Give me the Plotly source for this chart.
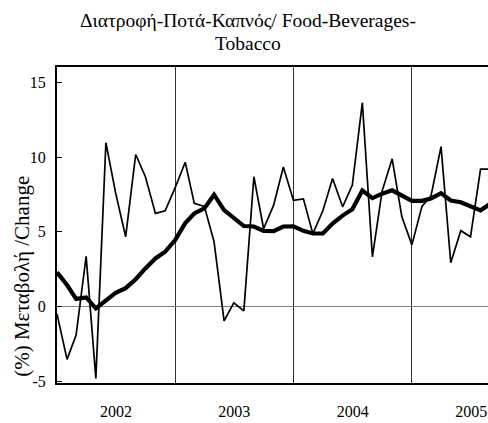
import pandas as pd
import plotly.graph_objects as go

# ---- data ----
months = pd.date_range("2002-01-01", periods=45, freq="MS")
monthly_change = [-0.5, -3.55, -1.92, 3.35, -4.82, 10.96, 7.6, 4.66, 10.17, 8.68, 6.23, 6.4,
                  7.95, 9.65, 6.9, 6.7, 4.33, -0.97, 0.24, -0.3, 8.68, 5.2, 6.78, 9.33,
                  7.1, 7.2, 4.87, 6.4, 8.57, 6.67, 8.12, 13.64, 3.32, 7.72, 9.88, 6.0,
                  4.12, 6.7, 7.4, 10.7, 2.92, 5.07, 4.66, 9.19, 9.19]
average_change = [2.28, 1.43, 0.5, 0.6, -0.13, 0.4, 0.91, 1.22, 1.82, 2.54, 3.21, 3.66,
                  4.44, 5.58, 6.22, 6.56, 7.48, 6.45, 5.93, 5.38, 5.35, 5.05, 5.04, 5.35,
                  5.36, 5.06, 4.88, 4.88, 5.55, 6.08, 6.5, 7.76, 7.25, 7.55, 7.77, 7.45,
                  7.07, 7.07, 7.23, 7.58, 7.09, 6.97, 6.67, 6.43, 6.88]
y_ticks = [-5, 0, 5, 10, 15]
y_tick_labels = ["-5", "0", "5", "10", "15"]
x_start = "2002-01-01"
x_end = "2005-08-24"

title_line1 = "Διατροφή-Ποτά-Καπνός/ Food-Beverages-"
title_line2 = "Tobacco"
y_title = "(%) Μεταβολή /Change"

FONT = "Liberation Serif"

fig = go.Figure()
fig.add_trace(go.Scatter(x=months, y=monthly_change, mode="lines",
                         line=dict(color="black", width=1.7), showlegend=False))
fig.add_trace(go.Scatter(x=months, y=average_change, mode="lines",
                         line=dict(color="black", width=4.2), showlegend=False))

fig.update_layout(
    width=488, height=423,
    margin=dict(l=57, r=0, t=67, b=40, autoexpand=False),
    paper_bgcolor="white", plot_bgcolor="white",
    font=dict(family=FONT, color="black", size=16),
    xaxis=dict(
        type="date", range=[x_start, x_end],
        dtick="M12", tick0=x_start, ticklabelmode="period", tickformat="%Y",
        showgrid=True, gridcolor="#303030", gridwidth=1,
        showline=True, linecolor="black", linewidth=2, mirror=True,
        ticks="", ticklabelstandoff=13, zeroline=False,
        tickfont=dict(family=FONT, size=16),
    ),
    yaxis=dict(
        range=[-5.13, 16.03], tickvals=y_ticks, ticktext=y_tick_labels,
        showgrid=False, zeroline=True, zerolinecolor="#808080", zerolinewidth=1,
        showline=True, linecolor="black", linewidth=2,
        ticks="inside", ticklen=5, tickcolor="black",
        ticklabelstandoff=6,
        tickfont=dict(family=FONT, size=16),
    ),
    annotations=[
        dict(text=title_line1, xref="paper", yref="paper", x=0.443, y=1,
             xanchor="center", yanchor="middle", yshift=47, showarrow=False,
             font=dict(family=FONT, size=19.5, color="black")),
        dict(text=title_line2, xref="paper", yref="paper", x=0.443, y=1,
             xanchor="center", yanchor="middle", yshift=24, showarrow=False,
             font=dict(family=FONT, size=19.5, color="black")),
        dict(text=y_title, textangle=-90, xref="paper", yref="paper",
             x=0, y=0.336, xanchor="center", yanchor="middle",
             xshift=-35, showarrow=False,
             font=dict(family=FONT, size=21, color="black")),
    ],
)

fig.write_html("out.html", config={"displayModeBar": False},
               post_script="document.body.style.margin='0';")
